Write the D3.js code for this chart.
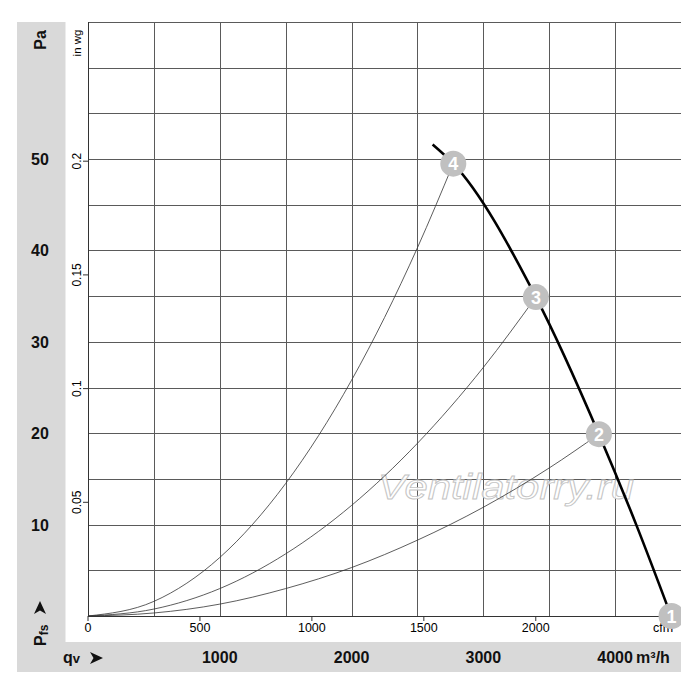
<!DOCTYPE html>
<html>
<head>
<meta charset="utf-8">
<script src="https://cdn.jsdelivr.net/npm/d3@7/dist/d3.min.js"></script>
<style>
  body { margin: 0; background: #fff; }
  text { font-family: Arial, "Liberation Sans", sans-serif; }
</style>
</head>
<body>
<script>
// fan curve, q in m3/h, static pressure in Pa
const fanQ  = [2615, 2772, 3399, 3877, 4160, 4425];
const fanPa = [51.6, 49.5, 34.9, 19.9, 10.0, 0];

// system curves
const sysQ = [0, 500, 1000, 1500, 2000, 2500, 3000, 3500];
const sys4 = [0, 1.6, 6.4, 14.5, 25.8, 40.3];
const sys3 = [0, 0.76, 3.0, 6.8, 12.1, 18.9, 27.2];
const sys2 = [0, 0.33, 1.3, 3.0, 5.3, 8.3, 11.9, 16.2];

// operating points
const ptLabel = ["1", "2", "3", "4"];
const ptQ  = [4428, 3877, 3399, 2772];
const ptPa = [0, 19.9, 34.9, 49.5];

const paTicks = [10, 20, 30, 40, 50];
const inwgTicks = [0.05, 0.1, 0.15, 0.2];
const m3hTicks = [1000, 2000, 3000, 4000];
const cfmTicks = [0, 500, 1000, 1500, 2000];

const W = 700, H = 700;
const mLeft = 88, mRight = 681, mTop = 22, mBottom = 616;

const svg = d3.select("body").append("svg")
  .attr("width", W)
  .attr("height", H);

const x = d3.scaleLinear().domain([0, 4500]).range([mLeft, mRight]);
const y = d3.scaleLinear().domain([0, 65]).range([mBottom, mTop]);
const cfm = d => d * 1.699;      // cfm -> m3/h
const inwg = d => d * 248.84;    // in wg -> Pa

const clip = svg.append("clipPath").attr("id", "clip");
clip.append("rect").attr("x", 0).attr("y", 0).attr("width", mRight).attr("height", H);

const g = svg.append("g").attr("clip-path", "url(#clip)");

// grey panels
g.append("rect").attr("x", 17).attr("y", mTop).attr("width", 48.5).attr("height", 642 - mTop)
  .attr("fill", "#d9d9d9");
g.append("rect").attr("x", 17).attr("y", 642).attr("width", mRight - 17).attr("height", 30)
  .attr("fill", "#d9d9d9");

// grid
const crisp = v => Math.round(v) + 0.5;
g.append("g").selectAll("line")
  .data(d3.range(0, 4501, 500))
  .join("line")
  .attr("x1", d => crisp(x(d))).attr("x2", d => crisp(x(d)))
  .attr("y1", mTop).attr("y2", mBottom)
  .attr("stroke", "#5a5a5a").attr("stroke-width", 1);

g.append("g").selectAll("line")
  .data(d3.range(0, 66, 5))
  .join("line")
  .attr("x1", mLeft).attr("x2", mRight)
  .attr("y1", d => crisp(y(d))).attr("y2", d => crisp(y(d)))
  .attr("stroke", "#5a5a5a").attr("stroke-width", 1);

g.append("line").attr("x1", mLeft + 0.5).attr("x2", mLeft + 0.5).attr("y1", mTop).attr("y2", mBottom + 0.5)
  .attr("stroke", "#333");
g.append("line").attr("x1", mLeft).attr("x2", mRight).attr("y1", mBottom + 0.5).attr("y2", mBottom + 0.5)
  .attr("stroke", "#333");

// watermark
g.append("text")
  .attr("x", 378).attr("y", 499)
  .attr("font-size", 35)
  .attr("font-style", "italic")
  .attr("textLength", 256).attr("lengthAdjust", "spacingAndGlyphs")
  .attr("fill", "#fff").attr("fill-opacity", 0.85)
  .attr("stroke", "#c4c4c4").attr("stroke-width", 0.9)
  .text("Ventilatorry.ru");

// system curves
const line = d3.line().x(d => x(d[0])).y(d => y(d[1])).curve(d3.curveMonotoneX);
[[sys2, 1], [sys3, 2], [sys4, 3]].forEach(([vals, i]) => {
  const pts = vals.map((v, k) => [sysQ[k], v]);
  pts.push([ptQ[i], ptPa[i]]);
  g.append("path").datum(pts)
    .attr("d", line)
    .attr("fill", "none").attr("stroke", "#333").attr("stroke-width", 0.8);
});

// fan curve
g.append("path").datum(fanQ.map((q, i) => [q, fanPa[i]]))
  .attr("d", line)
  .attr("fill", "none").attr("stroke", "#000").attr("stroke-width", 2.6);

// axis ticks and labels
const axisG = g.append("g").attr("font-size", 12.5).attr("fill", "#000");
axisG.selectAll(".cfmtick").data(cfmTicks).join("line")
  .attr("x1", d => x(cfm(d))).attr("x2", d => x(cfm(d)))
  .attr("y1", mBottom).attr("y2", mBottom + 5)
  .attr("stroke", "#333");
axisG.selectAll(".cfmlab").data(cfmTicks).join("text")
  .attr("x", d => x(cfm(d))).attr("y", 632)
  .attr("text-anchor", "middle")
  .text(d => d);
axisG.append("text").attr("x", 663).attr("y", 632).attr("text-anchor", "middle").text("cfm");

axisG.selectAll(".wgtick").data(inwgTicks).join("line")
  .attr("x1", mLeft - 5).attr("x2", mLeft)
  .attr("y1", d => y(inwg(d))).attr("y2", d => y(inwg(d)))
  .attr("stroke", "#333");
axisG.selectAll(".wglab").data(inwgTicks).join("text")
  .attr("transform", d => `translate(81,${y(inwg(d))}) rotate(-90)`)
  .attr("text-anchor", "middle")
  .attr("font-size", 12)
  .text(d => d);
axisG.append("text")
  .attr("transform", "translate(81,43) rotate(-90)")
  .attr("text-anchor", "middle")
  .attr("font-size", 11.5)
  .text("in wg");

// Pa labels in grey panel
const bold = g.append("g").attr("font-weight", "bold").attr("font-size", 16).attr("fill", "#111");
bold.selectAll(".pa").data(paTicks).join("text")
  .attr("x", 40).attr("y", d => y(d) + 6)
  .attr("text-anchor", "middle")
  .text(d => d);
bold.append("text")
  .attr("transform", "translate(46,40) rotate(-90)")
  .attr("text-anchor", "middle")
  .text("Pa");

const pfs = bold.append("text")
  .attr("transform", "translate(46,646) rotate(-90)");
pfs.append("tspan").text("P");
pfs.append("tspan").attr("font-size", 12).attr("dy", 2).text("fs");

const arrow = "M0,-6L13,0L0,6L3.5,0Z";
bold.append("path").attr("d", arrow)
  .attr("transform", "translate(40,614) rotate(-90)")
  .attr("fill", "#111");

// m3/h labels in bottom panel
bold.selectAll(".m3").data(m3hTicks).join("text")
  .attr("x", d => x(d)).attr("y", 663)
  .attr("text-anchor", "middle")
  .text(d => d);
bold.append("text").attr("x", x(4000) + 21).attr("y", 663).text("m³/h");

const qv = bold.append("text").attr("x", 63).attr("y", 663);
qv.append("tspan").text("q");
qv.append("tspan").attr("font-size", 13).text("v");
bold.append("path").attr("d", arrow)
  .attr("transform", "translate(90,658)")
  .attr("fill", "#111");

// operating point markers
const pts = g.append("g").selectAll("g")
  .data(ptLabel.map((l, i) => ({ l, q: ptQ[i], p: ptPa[i] })))
  .join("g")
  .attr("transform", d => `translate(${x(d.q)},${y(d.p)})`);
pts.append("circle").attr("r", 13).attr("fill", "#c0c0c0");
pts.append("text")
  .attr("text-anchor", "middle").attr("y", 6.5)
  .attr("font-size", 18).attr("font-weight", "bold")
  .attr("fill", "#fff")
  .text(d => d.l);
</script>
</body>
</html>
